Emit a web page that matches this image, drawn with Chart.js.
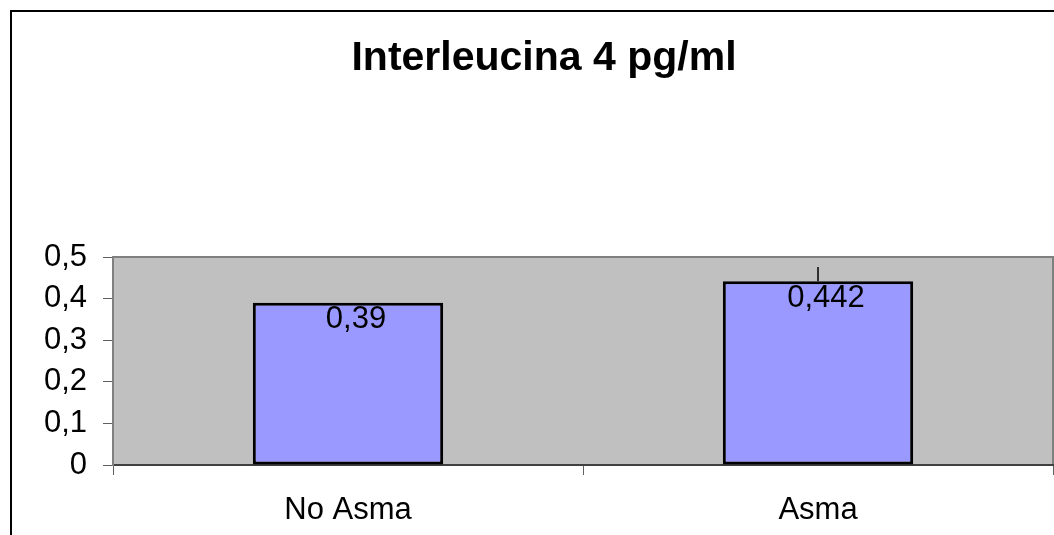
<!DOCTYPE html>
<html>
<head>
<meta charset="utf-8">
<script src="https://cdn.jsdelivr.net/npm/chart.js@4/dist/chart.umd.min.js"></script>
<style>
  html, body { margin: 0; padding: 0; background: #fff; }
  #wrap { width: 1054px; height: 535px; position: relative; }
</style>
</head>
<body>
<div id="wrap"><canvas id="c" width="1054" height="535"></canvas></div>
<script>
const categories = ['No Asma', 'Asma'];
const values = [0.39, 0.442];
const valueLabels = ['0,39', '0,442'];
const errorPlus = [0, 0.034];
const yTickLabels = ['0', '0,1', '0,2', '0,3', '0,4', '0,5'];
const chartTitle = 'Interleucina 4 pg/ml';

const FONT = "'Liberation Sans', Arial, sans-serif";

const decor = {
  id: 'decor',
  beforeDraw(chart) {
    const { ctx, chartArea: a } = chart;
    ctx.save();
    ctx.fillStyle = '#ffffff';
    ctx.fillRect(0, 0, chart.width, chart.height);
    ctx.fillStyle = '#C0C0C0';
    ctx.fillRect(a.left, a.top, a.right - a.left, a.bottom - a.top);
    ctx.strokeStyle = '#808080';
    ctx.lineWidth = 2;
    ctx.beginPath();
    ctx.moveTo(a.left, a.top);
    ctx.lineTo(a.right, a.top);
    ctx.lineTo(a.right, a.bottom);
    ctx.stroke();
    ctx.restore();
  },
  afterDatasetsDraw(chart) {
    const { ctx } = chart;
    const meta = chart.getDatasetMeta(0);
    const yScale = chart.scales.y;
    ctx.save();
    ctx.strokeStyle = '#000';
    ctx.lineWidth = 1.5;
    meta.data.forEach((bar, i) => {
      if (errorPlus[i] > 0) {
        const yTop = yScale.getPixelForValue(values[i] + errorPlus[i]);
        ctx.beginPath();
        ctx.moveTo(bar.x, bar.y);
        ctx.lineTo(bar.x, yTop);
        ctx.stroke();
      }
    });
    ctx.fillStyle = '#000';
    ctx.font = '31px ' + FONT;
    ctx.textAlign = 'center';
    ctx.textBaseline = 'middle';
    meta.data.forEach((bar, i) => {
      ctx.fillText(valueLabels[i], bar.x + 8, bar.y + 17);
    });
    ctx.restore();
  },
  afterDraw(chart) {
    const { ctx } = chart;
    ctx.save();
    ctx.fillStyle = '#000';
    ctx.font = 'bold 41px ' + FONT;
    ctx.textAlign = 'center';
    ctx.textBaseline = 'middle';
    ctx.fillText(chartTitle, 544, 59);
    ctx.strokeStyle = '#000';
    ctx.lineWidth = 2;
    ctx.beginPath();
    ctx.moveTo(11, chart.height + 5);
    ctx.lineTo(11, 11);
    ctx.lineTo(chart.width + 5, 11);
    ctx.stroke();
    ctx.restore();
  }
};

new Chart(document.getElementById('c'), {
  type: 'bar',
  data: {
    labels: categories,
    datasets: [{
      data: values,
      backgroundColor: '#9999FF',
      borderColor: '#000000',
      borderWidth: 3,
      borderSkipped: false,
      categoryPercentage: 1.0,
      barPercentage: 0.405
    }]
  },
  options: {
    responsive: false,
    animation: false,
    devicePixelRatio: 1,
    layout: { padding: { top: 257, right: 1, left: 0, bottom: 0 } },
    plugins: {
      legend: { display: false },
      title: { display: false },
      tooltip: { enabled: false }
    },
    scales: {
      x: {
        afterFit(s) { s.height = 70; },
        grid: {
          offset: true,
          drawOnChartArea: false,
          drawTicks: true,
          tickLength: 10,
          color: '#606060',
          lineWidth: 1
        },
        border: { display: true, color: '#404040', width: 2 },
        ticks: {
          color: '#000',
          padding: 17,
          font: { family: FONT, size: 31 },
          maxRotation: 0
        }
      },
      y: {
        min: 0,
        max: 0.5,
        afterFit(s) { s.width = 113; },
        afterBuildTicks(s) {
          s.ticks = yTickLabels.map((_, i) => ({ value: i / 10 }));
        },
        grid: {
          drawOnChartArea: false,
          drawTicks: true,
          tickLength: 10,
          color: '#606060',
          lineWidth: 1
        },
        border: { display: true, color: '#808080', width: 2 },
        ticks: {
          color: '#000',
          padding: 16,
          font: { family: FONT, size: 31 },
          callback: (v, i) => yTickLabels[i]
        }
      }
    }
  },
  plugins: [decor]
});
</script>
</body>
</html>
